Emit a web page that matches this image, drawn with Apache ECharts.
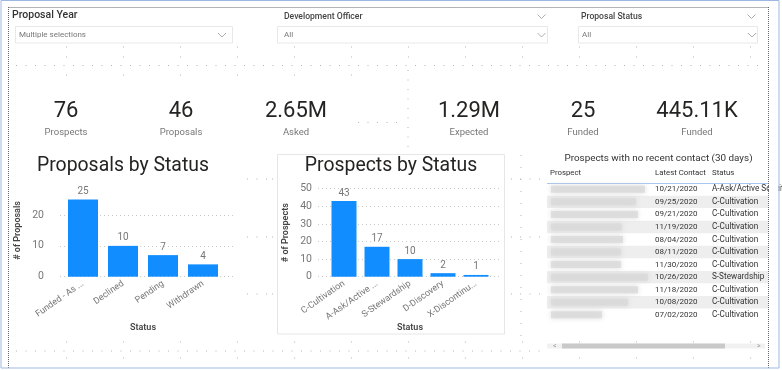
<!DOCTYPE html>
<html><head><meta charset="utf-8">
<script src="https://cdn.jsdelivr.net/npm/echarts@6/dist/echarts.min.js"></script>
<style>html,body{margin:0;padding:0;background:#fff}#c{width:782px;height:370px}</style>
</head><body><div id="c"></div>
<script>
// ---------- data ----------
const slicerTitles = ['Proposal Year', 'Development Officer', 'Proposal Status'];
const slicerValues = ['Multiple selections', 'All', 'All'];
const kpiValues = ['76', '46', '2.65M', '1.29M', '25', '445.11K'];
const kpiLabels = ['Prospects', 'Proposals', 'Asked', 'Expected', 'Funded', 'Funded'];

const proposalStatuses = ['Funded - As ...', 'Declined', 'Pending', 'Withdrawn'];
const proposalCounts = [25, 10, 7, 4];
const proposalTicks = [0, 10, 20];

const prospectStatuses = ['C-Cultivation', 'A-Ask/Active ...', 'S-Stewardship', 'D-Discovery', 'X-Discontinu...'];
const prospectCounts = [43, 17, 10, 2, 1];
const prospectTicks = [0, 10, 20, 30, 40, 50];

const tableTitle = 'Prospects with no recent contact (30 days)';
const tableColumns = ['Prospect', 'Latest Contact', 'Status'];
const contactDates = ['10/21/2020', '09/25/2020', '09/21/2020', '11/19/2020', '08/04/2020', '08/11/2020',
  '11/30/2020', '10/26/2020', '11/18/2020', '10/08/2020', '07/02/2020'];
const contactStatuses = ['A-Ask/Active Solicitation', 'C-Cultivation', 'C-Cultivation', 'C-Cultivation',
  'C-Cultivation', 'C-Cultivation', 'C-Cultivation', 'S-Stewardship', 'C-Cultivation', 'C-Cultivation', 'C-Cultivation'];

// ---------- layout / style (not data) ----------
const BLUE = '#118DFF';
const NUMFONT = 'Roboto';
const TXTFONT = 'Roboto';
const kpiCenters = [66, 181, 296, 469, 583, 697];
const blurWidths = [94, 85, 87, 71, 72, 70, 70, 97, 87, 77, 51];

const g = [];
function txt(x, y, text, o) {
  o = o || {};
  g.push({ type: 'text', x: x, y: y, z: o.z || 10, rotation: o.rot || 0,
    style: { text: text, fill: o.c || '#333', fontSize: o.s || 10, fontFamily: o.f || TXTFONT,
      fontWeight: o.w || 'normal', align: o.a || 'left', verticalAlign: 'middle' } });
}
function line(x1, y1, x2, y2, stroke, dash, z, lw) {
  g.push({ type: 'line', z: z || 1, shape: { x1: x1, y1: y1, x2: x2, y2: y2 },
    style: { stroke: stroke, lineWidth: lw || 1, lineDash: dash || null } });
}
function rect(x, y, w, h, o) {
  g.push({ type: 'rect', z: o.z || 2, shape: { x: x, y: y, width: w, height: h },
    style: { fill: o.fill || 'none', stroke: o.stroke || null, lineWidth: 1,
      shadowBlur: o.blur || 0, shadowColor: o.sc || 'transparent', opacity: o.op == null ? 1 : o.op } });
}
function chevron(x, y) {
  g.push({ type: 'polyline', z: 5, shape: { points: [[x - 4, y - 2], [x, y + 2], [x + 4, y - 2]] },
    style: { stroke: '#999', lineWidth: 0.8, fill: 'none' } });
}

// outer frame + dotted border
rect(1, 0.5, 778, 367.5, { stroke: '#9db7e3', z: 50 });
line(8.5, 7, 8.5, 368, '#666', [1, 1], 49);
line(8.5, 7.5, 768, 7.5, '#666', [1, 1], 49);
line(768.5, 7, 768.5, 368, '#666', [1, 1], 49);
rect(769, 150, 9, 200, { fill: '#fff', z: 48 });

// snap-grid dots
const DOT = '#b5b5b5';
line(16, 65.5, 762, 65.5, DOT, [1, 8.5]);
line(16, 351, 545, 351, DOT, [1, 8.5]);
line(408, 70, 408, 150, DOT, [1, 8.5]);
line(358, 122.5, 402, 122.5, DOT, [1, 8.5]);
[179, 237, 294].forEach(function (y) {
  line(247, y, 268, y, DOT, [1, 8.5]);
  line(520, y, 546, y, DOT, [1, 8.5]);
  line(272, y, 274, y, DOT, [1, 8.5]);
  line(511, y, 513, y, DOT, [1, 8.5]);
});
line(521, 155, 521, 345, DOT, [1, 11]);
[47, 57, 75, 342, 358].forEach(function (y) {
  for (let x = 66; x < 760; x += 57) {
    if (y === 75 && x > 360) continue;
    line(x, y, x + 1, y, DOT);
  }
});

// slicers
txt(12, 15.5, slicerTitles[0], { s: 10.5, c: '#333', f: NUMFONT, w: 500 });
txt(284, 17, slicerTitles[1], { s: 8.6, c: '#444', f: NUMFONT, w: 500 });
txt(581, 17, slicerTitles[2], { s: 8.6, c: '#444', f: NUMFONT, w: 500 });
chevron(541.5, 16.5); chevron(751.5, 16.5);
rect(15.5, 26.5, 217, 16.5, { stroke: '#e8e8e8' });
rect(277.5, 26.5, 270, 16.5, { stroke: '#e8e8e8' });
rect(578.5, 26.5, 179, 16.5, { stroke: '#e8e8e8' });
txt(19, 35, slicerValues[0], { s: 8, c: '#777' });
txt(284, 35, slicerValues[1], { s: 8, c: '#777' });
txt(582, 35, slicerValues[2], { s: 8, c: '#777' });
chevron(222, 35); chevron(541.5, 35); chevron(752, 35);

// KPI cards
kpiValues.forEach(function (v, i) {
  txt(kpiCenters[i], 111, v, { s: 22, c: '#252423', f: NUMFONT, a: 'center' });
  txt(kpiCenters[i], 132.5, kpiLabels[i], { s: 9.5, c: '#777', a: 'center' });
});

// chart titles + panel
txt(37, 166, 'Proposals by Status', { s: 19.4, c: '#252423', f: NUMFONT });
rect(277.5, 154.5, 227, 179.5, { stroke: '#e6e6e6', z: 0 });
txt(391, 166, 'Prospects by Status', { s: 19.4, c: '#252423', f: NUMFONT, a: 'center' });
// x-axis titles
txt(143, 328, 'Status', { s: 9, c: '#444', w: 600, a: 'center' });
txt(410, 328, 'Status', { s: 9, c: '#444', w: 600, a: 'center' });

// table
txt(658.5, 158.5, tableTitle, { s: 9.9, c: '#333', a: 'center' });
const colX = [550, 655, 712];
tableColumns.forEach(function (c, i) { txt(colX[i], 173, c, { s: 7.8, c: '#333' }); });
line(547, 183.5, 768, 183.5, '#a8c6ef', null, 3);
contactDates.forEach(function (d, i) {
  const y = 189.3 + i * 12.55;
  if (i % 2 === 1) rect(547, y - 6.2, 221, 12.4, { fill: '#eeeeee', z: 1 });
  rect(551, y - 3.5, blurWidths[i], 7, { fill: '#dadada', blur: 5, sc: '#cfcfcf', op: 0.75, z: 3 });
  txt(colX[1], y, d, { s: 8, c: '#333' });
  txt(colX[2], y, contactStatuses[i], { s: 8.2, c: '#333' });
});
rect(547, 343.5, 218, 5, { fill: '#f1f1f1', z: 2 });
rect(562, 343.5, 163, 5, { fill: '#c9c9c9', z: 3 });
txt(553, 346, '<', { s: 7, c: '#999' });
txt(757, 346, '>', { s: 7, c: '#999' });

// ---------- charts ----------
const axisLabelStyle = { color: '#777', fontSize: 9, fontFamily: TXTFONT };
const nameStyle = { color: '#444', fontSize: 9, fontWeight: 600, fontFamily: TXTFONT };

function yTicks(t, max) { return { min: t[0], max: max, interval: t[1] - t[0] }; }

const option = {
  animation: false,
  backgroundColor: '#fff',
  graphic: { elements: g },
  grid: [
    { left: 63, top: 184.2, width: 160, height: 92.5 },
    { left: 60, top: 184.2, width: 176, height: 92.5 },
    { left: 327.5, top: 188.7, width: 165, height: 88 },
    { left: 318, top: 188.7, width: 182, height: 88 }
  ],
  xAxis: [
    { type: 'category', gridIndex: 0, data: proposalStatuses,
      axisLine: { show: false }, axisTick: { show: false },
      axisLabel: Object.assign({ rotate: 35, interval: 0, margin: 6 }, axisLabelStyle) },
    { type: 'value', gridIndex: 1, show: false },
    { type: 'category', gridIndex: 2, data: prospectStatuses,
      axisLine: { show: false }, axisTick: { show: false },
      axisLabel: Object.assign({ rotate: 35, interval: 0, margin: 6 }, axisLabelStyle) },
    { type: 'value', gridIndex: 3, show: false }
  ],
  yAxis: [
    Object.assign({ type: 'value', gridIndex: 0, show: false }, yTicks(proposalTicks, 30)),
    Object.assign({ type: 'value', gridIndex: 1,
      axisLine: { show: false }, axisTick: { show: false },
      axisLabel: Object.assign({ margin: 16, showMaxLabel: false }, axisLabelStyle, { fontSize: 10.5 }),
      splitLine: { show: true, showMaxLine: false, lineStyle: { type: [1, 3], color: '#c8c8c8' } },
      name: '# of Proposals', nameLocation: 'middle', nameGap: 38, nameTextStyle: nameStyle },
      yTicks(proposalTicks, 30)),
    Object.assign({ type: 'value', gridIndex: 2, show: false }, yTicks(prospectTicks, 50)),
    Object.assign({ type: 'value', gridIndex: 3,
      axisLine: { show: false }, axisTick: { show: false },
      axisLabel: Object.assign({ margin: 6 }, axisLabelStyle, { fontSize: 10.5 }),
      splitLine: { show: true, lineStyle: { type: [1, 3], color: '#c8c8c8' } },
      name: '# of Prospects', nameLocation: 'middle', nameGap: 28, nameTextStyle: nameStyle },
      yTicks(prospectTicks, 50))
  ],
  series: [
    { type: 'bar', xAxisIndex: 0, yAxisIndex: 0, data: proposalCounts, barWidth: 30,
      itemStyle: { color: BLUE }, z: 5,
      label: { show: true, position: 'top', distance: 3, color: '#777', fontSize: 10, fontFamily: TXTFONT } },
    { type: 'bar', xAxisIndex: 2, yAxisIndex: 2, data: prospectCounts, barWidth: 25,
      itemStyle: { color: BLUE }, z: 5,
      label: { show: true, position: 'top', distance: 3, color: '#777', fontSize: 10, fontFamily: TXTFONT } }
  ]
};

const chart = echarts.init(document.getElementById('c'), null, { renderer: 'canvas' });
chart.setOption(option);
</script>
</body></html>
